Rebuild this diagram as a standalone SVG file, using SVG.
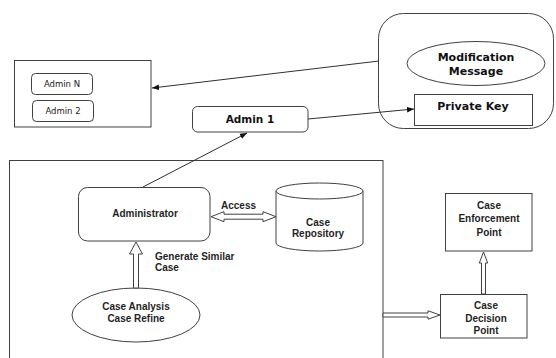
<svg xmlns="http://www.w3.org/2000/svg" width="556" height="358" viewBox="0 0 556 358">
<style>
.box{fill:#fff;stroke:#404040;stroke-width:1}
.t{font-family:"Liberation Sans",Arial,sans-serif;font-weight:bold;font-size:10px;fill:#1f1f1f;text-anchor:middle;dominant-baseline:central}
.tl{font-family:"Liberation Sans",Arial,sans-serif;font-weight:bold;font-size:10px;fill:#1f1f1f;dominant-baseline:central}
.v{font-family:"DejaVu Sans",Verdana,sans-serif;font-weight:bold;font-size:11px;fill:#111;text-anchor:middle;dominant-baseline:central}
.s{font-family:"DejaVu Sans",Verdana,sans-serif;font-size:8.5px;fill:#222;text-anchor:middle;dominant-baseline:central}
.ln{fill:none;stroke:#303030;stroke-width:1}
.ha{fill:#fff;stroke:#404040;stroke-width:1}
</style>
<defs>
<marker id="ah" viewBox="0 0 10 10" refX="10" refY="5" markerWidth="7" markerHeight="7" markerUnits="userSpaceOnUse" orient="auto">
<path d="M0,1 L10,5 L0,9 z" fill="#111"/>
</marker>
</defs>

<g id="system">
<rect class="box" x="9.5" y="160.5" width="373.5" height="210"/>
</g>

<g id="admins-group">
<rect class="box" x="14.5" y="60.5" width="136.5" height="66.5"/>
</g>
<g id="admin-n">
<rect class="box" x="31.5" y="73.5" width="61" height="21" rx="4"/>
<text class="s" x="62" y="84">Admin N</text>
</g>
<g id="admin-2">
<rect class="box" x="32.5" y="100.5" width="61" height="21" rx="4"/>
<text class="s" x="63" y="111">Admin 2</text>
</g>

<g id="modification-group">
<rect class="box" x="378.5" y="13.5" width="175" height="115" rx="25"/>
</g>
<g id="modification-message">
<ellipse class="box" cx="476" cy="63.5" rx="69" ry="22"/>
<text class="v" x="476" y="57">Modification</text>
<text class="v" x="476" y="71">Message</text>
</g>
<g id="private-key">
<rect class="box" x="414.5" y="94.5" width="118" height="31"/>
<text class="v" x="473" y="106">Private Key</text>
</g>

<g id="admin-1">
<rect class="box" x="192.5" y="106.5" width="115.5" height="25.5" rx="5"/>
<text class="v" x="250" y="119" style="font-size:10.5px">Admin 1</text>
</g>

<g id="administrator">
<rect class="box" x="78.5" y="187.5" width="131.5" height="53.5" rx="9"/>
<text class="t" x="145" y="213">Administrator</text>
</g>

<g id="case-repository">
<path class="box" d="M276,191 L276,243 A43.5,8 0 0 0 363,243 L363,191"/>
<ellipse class="box" cx="319.5" cy="191" rx="43.5" ry="8"/>
<text class="t" x="318" y="222">Case</text>
<text class="t" x="318" y="233.5">Repository</text>
</g>

<g id="case-analysis">
<ellipse class="box" cx="136" cy="315" rx="64" ry="27"/>
<text class="t" x="136" y="306">Case Analysis</text>
<text class="t" x="136" y="318">Case Refine</text>
</g>

<g id="case-enforcement-point">
<rect class="box" x="445.5" y="193.5" width="86.5" height="57.5"/>
<text class="t" x="489" y="205">Case</text>
<text class="t" x="489" y="218.5">Enforcement</text>
<text class="t" x="489" y="232">Point</text>
</g>

<g id="case-decision-point">
<rect class="box" x="440.5" y="294.5" width="86.5" height="43.5"/>
<text class="t" x="486" y="305">Case</text>
<text class="t" x="486" y="318">Decision</text>
<text class="t" x="486" y="330.5">Point</text>
</g>

<g id="connectors">
<line class="ln" x1="143" y1="187" x2="247" y2="133" marker-end="url(#ah)"/>
<line class="ln" x1="308" y1="119" x2="414" y2="109" marker-end="url(#ah)"/>
<line class="ln" x1="379" y1="61" x2="152" y2="88" marker-end="url(#ah)"/>
<polygon class="ha" points="211,216.7 224,211.7 224,214.2 263,214.2 263,211.7 276,216.7 263,221.7 263,219.2 224,219.2 224,221.7"/>
<text class="tl" x="221" y="205">Access</text>
<polygon class="ha" points="136,242 142.5,254 138.5,254 138.5,288 133.5,288 133.5,254 129.5,254"/>
<text class="tl" x="155" y="256">Generate Similar</text>
<text class="tl" x="155" y="267.5">Case</text>
<polygon class="ha" points="440,315 428,310.8 428,313 383,313 383,317 428,317 428,319.2"/>
<polygon class="ha" points="483.5,252 487.7,263 485.5,263 485.5,294 481.5,294 481.5,263 479.3,263"/>
</g>
</svg>
